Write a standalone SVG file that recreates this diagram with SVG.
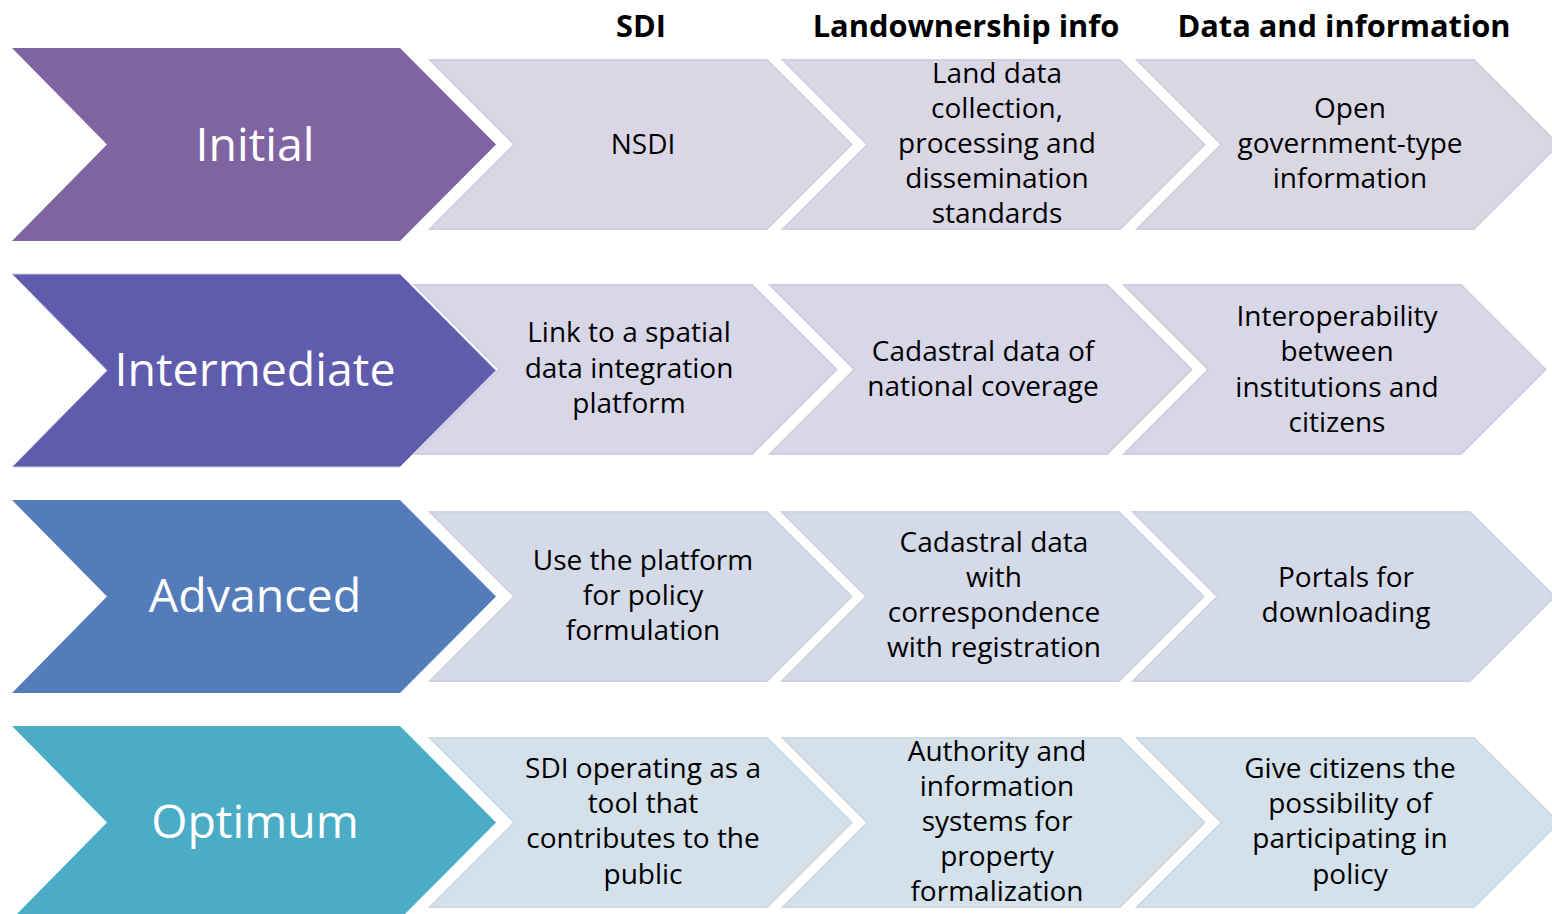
<svg xmlns="http://www.w3.org/2000/svg" width="1552" height="914" viewBox="0 0 1552 914">
<style>
.hdr{font-family:"Open Sans","Liberation Sans",sans-serif;font-weight:bold;font-size:30.8px;fill:#000;text-anchor:middle}
.main{font-family:"Open Sans","Liberation Sans",sans-serif;font-size:46.5px;fill:#fff;text-anchor:middle}
.body{font-family:"Open Sans","Liberation Sans",sans-serif;font-size:28px;fill:#000;text-anchor:middle}
.l1{fill:#DAD7E5;stroke:#D2CFE0;stroke-width:2}
.l2{fill:#D8D7E7;stroke:#D0CFE2;stroke-width:2}
.l3{fill:#D5DAE8;stroke:#CDD3E3;stroke-width:2}
.l4{fill:#D4E1EA;stroke:#CCDAE5;stroke-width:2}
</style>
<defs>
<polygon id="mainChev" points="0,0 388,0 484,96.5 388,193 0,193 95,96.5"/>
<polygon id="lightChev" points="0,0 337,0 421.5,84.5 337,169 0,169 84.5,84.5"/>
</defs>
<g id="headers">
<text class="hdr" x="641" y="37">SDI</text>
<text class="hdr" x="966" y="37">Landownership info</text>
<text class="hdr" x="1344" y="37">Data and information</text>
</g>
<g id="connectors"/>
<g id="row-initial">
<g id="initial"><use href="#mainChev" x="12" y="48" fill="#8064A2"/><text class="main" x="255" y="161">Initial</text></g>
<g id="r1-sdi"><use href="#lightChev" x="430" y="60" class="l1"/><text class="body" x="643" y="154">NSDI</text></g>
<g id="r1-land"><use href="#lightChev" x="783" y="60" class="l1"/>
<text class="body" x="997" y="83">Land data</text><text class="body" x="997" y="118">collection,</text><text class="body" x="997" y="153">processing and</text><text class="body" x="997" y="188">dissemination</text><text class="body" x="997" y="223">standards</text></g>
<g id="r1-data"><use href="#lightChev" x="1137" y="60" class="l1"/>
<text class="body" x="1350" y="118">Open</text><text class="body" x="1350" y="153">government-type</text><text class="body" x="1350" y="188">information</text></g>
</g>
<g id="row-intermediate">
<g id="intermediate"><use href="#mainChev" x="12" y="274" fill="#5F5BAD" stroke="#CFCDE6" stroke-width="1"/><text class="main" x="255" y="386">Intermediate</text></g>
<g id="r2-sdi"><use href="#lightChev" x="415" y="285" class="l2"/>
<text class="body" x="629" y="342">Link to a spatial</text><text class="body" x="629" y="378">data integration</text><text class="body" x="629" y="413">platform</text></g>
<g id="r2-land"><use href="#lightChev" x="770" y="285" class="l2"/>
<text class="body" x="983" y="361">Cadastral data of</text><text class="body" x="983" y="396">national coverage</text></g>
<g id="r2-data"><use href="#lightChev" x="1124" y="285" class="l2"/>
<text class="body" x="1337" y="326">Interoperability</text><text class="body" x="1337" y="361">between</text><text class="body" x="1337" y="397">institutions and</text><text class="body" x="1337" y="432">citizens</text></g>
</g>
<g id="row-advanced">
<g id="advanced"><use href="#mainChev" x="12" y="500" fill="#547CBB"/><text class="main" x="255" y="612">Advanced</text></g>
<g id="r3-sdi"><use href="#lightChev" x="430" y="512" class="l3"/>
<text class="body" x="643" y="570">Use the platform</text><text class="body" x="643" y="605">for policy</text><text class="body" x="643" y="640">formulation</text></g>
<g id="r3-land"><use href="#lightChev" x="782" y="512" class="l3"/>
<text class="body" x="994" y="552">Cadastral data</text><text class="body" x="994" y="587">with</text><text class="body" x="994" y="622">correspondence</text><text class="body" x="994" y="657">with registration</text></g>
<g id="r3-data"><use href="#lightChev" x="1133" y="512" class="l3"/>
<text class="body" x="1346" y="587">Portals for</text><text class="body" x="1346" y="622">downloading</text></g>
</g>
<g id="row-optimum">
<g id="optimum"><use href="#mainChev" x="12" y="726" fill="#4BACC6"/><text class="main" x="255" y="838">Optimum</text></g>
<g id="r4-sdi"><use href="#lightChev" x="430" y="738" class="l4"/>
<text class="body" x="643" y="778">SDI operating as a</text><text class="body" x="643" y="813">tool that</text><text class="body" x="643" y="848">contributes to the</text><text class="body" x="643" y="884">public</text></g>
<g id="r4-land"><use href="#lightChev" x="783" y="738" class="l4"/>
<text class="body" x="997" y="761">Authority and</text><text class="body" x="997" y="796">information</text><text class="body" x="997" y="831">systems for</text><text class="body" x="997" y="866">property</text><text class="body" x="997" y="901">formalization</text></g>
<g id="r4-data"><use href="#lightChev" x="1137" y="738" class="l4"/>
<text class="body" x="1350" y="778">Give citizens the</text><text class="body" x="1350" y="813">possibility of</text><text class="body" x="1350" y="848">participating in</text><text class="body" x="1350" y="884">policy</text></g>
</g>
</svg>
